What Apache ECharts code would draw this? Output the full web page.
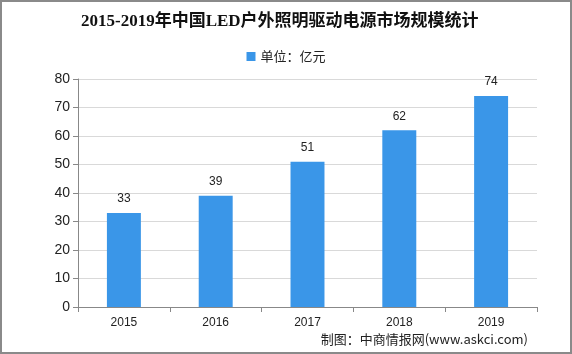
<!DOCTYPE html>
<html>
<head>
<meta charset="utf-8">
<script src="https://cdn.jsdelivr.net/npm/echarts@6/dist/echarts.min.js"></script>
<style>
html,body{margin:0;padding:0;background:#fff;}
#c{position:absolute;left:0;top:0;width:568px;height:350px;border:2px solid #8a8a8a;}
</style>
</head>
<body>
<div id="c"></div>
<script>
const categories = ['2015', '2016', '2017', '2018', '2019'];
const values = [33, 39, 51, 62, 74];
const seriesName = '单位：亿元';
const titleText = '2015-2019年中国LED户外照明驱动电源市场规模统计';
const sourceText = '制图：中商情报网(www.askci.com)';

const chart = echarts.init(document.getElementById('c'));
chart.setOption({
  animation: false,
  title: {
    text: titleText,
    left: 74,
    top: 6,
    textStyle: {fontFamily: '"Liberation Serif","Noto Sans CJK SC"', fontSize: 17, fontWeight: 'bold', color: '#111'}
  },
  legend: {
    data: [seriesName],
    top: 43,
    left: 'center',
    icon: 'rect',
    itemWidth: 9,
    itemHeight: 9,
    itemGap: 4,
    textStyle: {fontFamily: '"Noto Sans CJK SC"', fontSize: 13, color: '#222'}
  },
  graphic: [{
    type: 'text',
    right: 42,
    top: 331,
    style: {text: sourceText, font: '13px "Noto Sans CJK SC"', fill: '#222'}
  }],
  grid: {left: 76, right: 33, top: 77, bottom: 45},
  xAxis: {
    type: 'category',
    data: categories,
    axisLine: {lineStyle: {color: '#888'}},
    axisTick: {show: true, alignWithLabel: false, lineStyle: {color: '#888'}},
    axisLabel: {fontFamily: '"Liberation Sans"', fontSize: 12, color: '#222', margin: 10}
  },
  yAxis: {
    type: 'value',
    min: 0, max: 80, interval: 10,
    axisLine: {show: true, lineStyle: {color: '#888'}},
    axisTick: {show: true, lineStyle: {color: '#888'}},
    axisLabel: {fontFamily: '"Liberation Sans"', fontSize: 14, color: '#222', margin: 8},
    splitLine: {lineStyle: {color: '#d9d9d9'}}
  },
  series: [{
    name: seriesName,
    type: 'bar',
    data: values,
    barWidth: '37%',
    itemStyle: {color: '#3a96e8'},
    label: {show: true, position: 'top', distance: 8, fontFamily: '"Liberation Sans"', fontSize: 12, color: '#222'}
  }]
});
</script>
</body>
</html>
